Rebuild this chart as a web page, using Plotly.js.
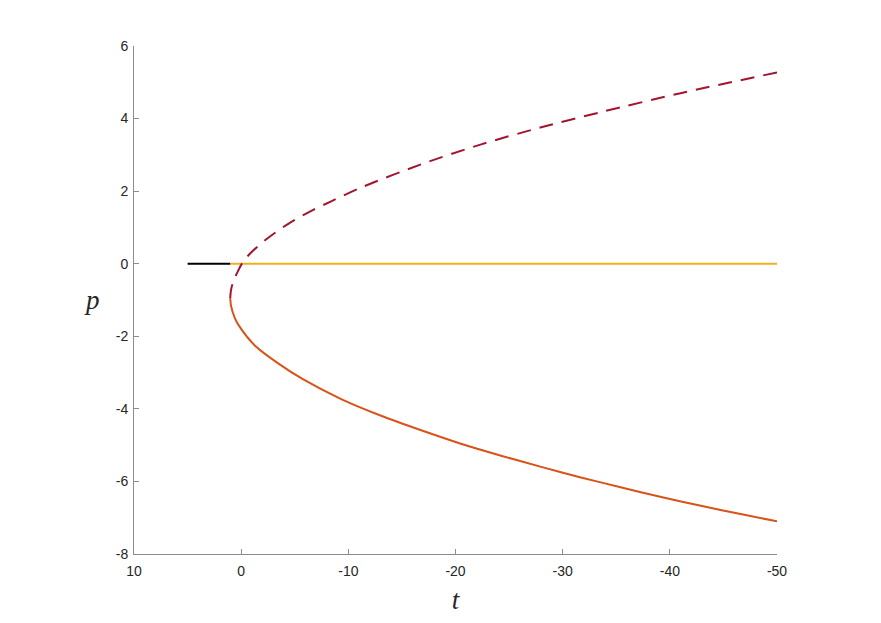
<!DOCTYPE html>
<html>
<head>
<meta charset="utf-8">
<script src="https://cdn.plot.ly/plotly-3.0.1.min.js"></script>
<style>
  html, body { margin: 0; padding: 0; background: #fff; }
  #plot { width: 881px; height: 623px; }
</style>
</head>
<body>
<div id="plot"></div>
<script>
// values (t runs from 10 down to -50)
const blackT = [5, 1.02];
const blackP = [0, 0];

const yellowT = [1.02, -50];
const yellowP = [0, 0];

// upper branch, dashed
const upperT = [1.02, 0.96, 0.78, 0.31, -0.15, -0.93, -2.5, -4.4, -6.5, -8.4, -11.2, -16.8, -22.4, -28.0, -33.6, -41.0, -50];
const upperP = [-0.95, -0.75, -0.53, -0.21, 0.04, 0.31, 0.71, 1.10, 1.45, 1.72, 2.10, 2.74, 3.29, 3.76, 4.18, 4.70, 5.27];

// lower branch, solid
const lowerT = [1.02, 0.94, 0.6, 0.18, -1.3, -3.42, -5.8, -9.33, -13.06, -16.8, -20.5, -24.25, -28.0, -31.7, -35.4, -39.2, -42.9, -46.6, -50];
const lowerP = [-0.95, -1.17, -1.49, -1.72, -2.26, -2.74, -3.19, -3.73, -4.19, -4.59, -4.96, -5.29, -5.60, -5.89, -6.16, -6.43, -6.67, -6.90, -7.10];

// tick labels drawn with a plain hyphen as in the reference
const tTicks = [10, 0, -10, -20, -30, -40, -50];
const tTickText = ['10', '0', '-10', '-20', '-30', '-40', '-50'];
const pTicks = [6, 4, 2, 0, -2, -4, -6, -8];
const pTickText = ['6', '4', '2', '0', '-2', '-4', '-6', '-8'];

const AXIS_COLOR = '#8c8c8c';
const LABEL_COLOR = '#262626';
const LATEX_FONT = '"Liberation Serif", "DejaVu Serif", serif';

const traces = [
    {
        x: yellowT, y: yellowP, mode: 'lines', type: 'scatter',
        line: { color: '#EDB120', width: 2 },
        hoverinfo: 'skip'
    },
    {
        x: blackT, y: blackP, mode: 'lines', type: 'scatter',
        line: { color: '#000000', width: 2 },
        hoverinfo: 'skip'
    },
    {
        x: lowerT, y: lowerP, mode: 'lines', type: 'scatter',
        line: { color: '#D95319', width: 2, shape: 'spline', smoothing: 0.8 },
        hoverinfo: 'skip'
    },
    {
        x: upperT, y: upperP, mode: 'lines', type: 'scatter',
        line: { color: '#A2142F', width: 2, dash: '14px,9px', shape: 'spline', smoothing: 0.8 },
        hoverinfo: 'skip'
    }
];

const layout = {
    width: 881,
    height: 623,
    showlegend: false,
    paper_bgcolor: '#ffffff',
    plot_bgcolor: '#ffffff',
    margin: { l: 134, r: 104, t: 46, b: 69 },
    font: { family: '"Liberation Sans", Helvetica, Arial, sans-serif', size: 14, color: LABEL_COLOR },
    xaxis: {
        range: [10, -50],
        tickmode: 'array',
        tickvals: tTicks,
        ticktext: tTickText,
        showgrid: false,
        zeroline: false,
        showline: true,
        linecolor: AXIS_COLOR,
        linewidth: 1,
        ticks: 'inside',
        ticklen: 5,
        tickcolor: AXIS_COLOR,
        ticklabelstandoff: 4,
        tickfont: { size: 14, color: LABEL_COLOR },
        automargin: false,
        title: {
            text: '<i>t</i>',
            font: { family: LATEX_FONT, size: 27, color: LABEL_COLOR },
            standoff: 12
        }
    },
    yaxis: {
        range: [-8, 6],
        tickmode: 'array',
        tickvals: pTicks,
        ticktext: pTickText,
        showgrid: false,
        zeroline: false,
        showline: true,
        linecolor: AXIS_COLOR,
        linewidth: 1,
        ticks: 'inside',
        ticklen: 5,
        tickcolor: AXIS_COLOR,
        ticklabelstandoff: 2,
        tickfont: { size: 14, color: LABEL_COLOR },
        automargin: false
    },
    annotations: [
        {
            text: '<i>p</i>',
            xref: 'paper', yref: 'paper',
            x: -0.065, y: 0.5,
            xanchor: 'center', yanchor: 'middle',
            showarrow: false,
            font: { family: LATEX_FONT, size: 27, color: LABEL_COLOR }
        }
    ]
};

Plotly.newPlot('plot', traces, layout, { displayModeBar: false, staticPlot: true });
</script>
</body>
</html>
